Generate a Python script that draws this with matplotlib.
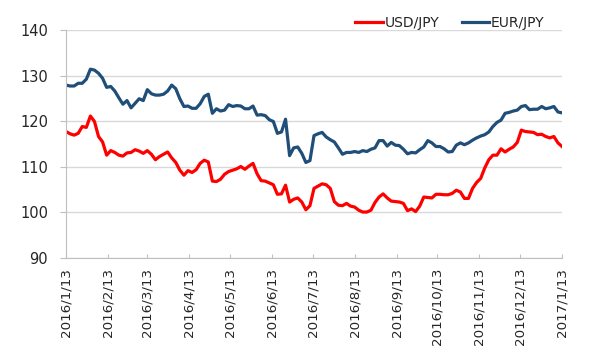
import matplotlib
matplotlib.use('Agg')
import matplotlib.pyplot as plt
import pandas as pd

# 3-day sampling, 2016/1/13 .. 2017/1/13
dates = pd.date_range('2016-01-13', '2017-01-13', freq='3D')

usd_jpy = [
    117.8, 117.3, 117.0, 117.4, 118.9, 118.7, 121.2, 120.0, 116.7, 115.5,
    112.6, 113.6, 113.2, 112.6, 112.4, 113.1, 113.2, 113.8, 113.5, 113.0,
    113.6, 112.8, 111.6, 112.3, 112.8, 113.3, 112.0, 111.0, 109.3, 108.2,
    109.2, 108.8, 109.4, 110.8, 111.5, 111.1, 106.9, 106.8, 107.3, 108.4,
    109.0, 109.3, 109.6, 110.1, 109.5, 110.2, 110.8, 108.5, 107.0, 106.9,
    106.5, 106.1, 104.0, 104.1, 106.0, 102.3, 102.9, 103.2, 102.3, 100.6,
    101.5, 105.3, 105.8, 106.3, 106.1, 105.3, 102.4, 101.6, 101.5, 102.0,
    101.4, 101.2, 100.5, 100.1, 100.1, 100.5, 102.2, 103.4, 104.1, 103.2,
    102.5, 102.4, 102.3, 102.0, 100.4, 100.8, 100.2, 101.4, 103.4, 103.3,
    103.2, 104.0, 104.0, 103.9, 103.9, 104.2, 104.9, 104.5, 103.1, 103.1,
    105.3, 106.6, 107.5, 109.8, 111.6, 112.6, 112.6, 114.0, 113.3, 113.9,
    114.4, 115.4, 118.1, 117.8, 117.7, 117.6, 117.1, 117.2, 116.7, 116.4,
    116.7, 115.3, 114.5,
]

eur_jpy = [
    128.0, 127.8, 127.8, 128.4, 128.4, 129.3, 131.5, 131.3, 130.6, 129.5,
    127.5, 127.7, 126.7, 125.2, 123.8, 124.6, 123.0, 124.0, 125.0, 124.6,
    127.0, 126.1, 125.8, 125.8, 126.0, 126.7, 128.0, 127.2, 125.0, 123.3,
    123.4, 122.9, 122.9, 123.9, 125.5, 126.0, 121.8, 122.8, 122.3, 122.5,
    123.7, 123.3, 123.5, 123.4, 122.8, 122.8, 123.4, 121.4, 121.5, 121.3,
    120.4, 120.0, 117.4, 117.7, 120.5, 112.5, 114.2, 114.4, 113.0, 111.0,
    111.4, 116.9, 117.3, 117.6, 116.6, 116.0, 115.5, 114.2, 112.8, 113.2,
    113.2, 113.4, 113.2, 113.6, 113.4, 113.9, 114.2, 115.8, 115.8, 114.6,
    115.4, 114.8, 114.7, 113.9, 112.9, 113.2, 113.1, 113.8, 114.4, 115.8,
    115.3, 114.5, 114.5, 114.0, 113.3, 113.4, 114.8, 115.3, 114.9, 115.3,
    115.9, 116.4, 116.8, 117.1, 117.7, 118.9, 119.8, 120.3, 121.8, 122.0,
    122.3, 122.5, 123.3, 123.5, 122.6, 122.7, 122.7, 123.3, 122.8, 123.0,
    123.3, 122.1, 121.9,
]

tick_dates = pd.to_datetime([
    '2016-01-13', '2016-02-13', '2016-03-13', '2016-04-13', '2016-05-13',
    '2016-06-13', '2016-07-13', '2016-08-13', '2016-09-13', '2016-10-13',
    '2016-11-13', '2016-12-13', '2017-01-13',
])
tick_labels = ['2016/1/13', '2016/2/13', '2016/3/13', '2016/4/13', '2016/5/13',
               '2016/6/13', '2016/7/13', '2016/8/13', '2016/9/13', '2016/10/13',
               '2016/11/13', '2016/12/13', '2017/1/13']
y_ticks = [90, 100, 110, 120, 130, 140]

plt.rcParams['font.family'] = ['DejaVu Sans']
text_color = '#262626'
grid_color = '#d9d9d9'

fig = plt.figure(figsize=(6.02, 3.52), dpi=100)
ax = fig.add_axes([66 / 602, 1 - 258 / 352, 496 / 602, 227.5 / 352])

ax.plot(dates, usd_jpy, color='#ff0000', lw=2.3, label='USD/JPY', solid_joinstyle='round')
ax.plot(dates, eur_jpy, color='#1f4e79', lw=2.3, label='EUR/JPY', solid_joinstyle='round')

ax.set_xlim(tick_dates[0], tick_dates[-1])
ax.set_ylim(90, 140)
ax.set_yticks(y_ticks)
ax.set_yticklabels([str(v) for v in y_ticks], fontsize=10.5, color=text_color)
ax.set_xticks(tick_dates)
ax.set_xticklabels(tick_labels, rotation=90, fontsize=9.7, color=text_color)

ax.grid(axis='y', color=grid_color, lw=1)
ax.set_axisbelow(True)
for side in ['top', 'right']:
    ax.spines[side].set_visible(False)
for side in ['left', 'bottom']:
    ax.spines[side].set_color('#bfbfbf')
# y ticks stick out to the left, x ticks point up into the plot
ax.tick_params(axis='y', length=4.3, color='#bfbfbf', pad=8.5)
ax.tick_params(axis='x', direction='in', length=3, color='#bfbfbf', pad=7)

fig.legend(loc='center right', bbox_to_anchor=(0.925, 0.934), ncol=2, frameon=False,
           fontsize=10, handlelength=2.0, handletextpad=0.1, columnspacing=1.6,
           labelcolor=text_color)

plt.savefig('out.png', dpi=100)
